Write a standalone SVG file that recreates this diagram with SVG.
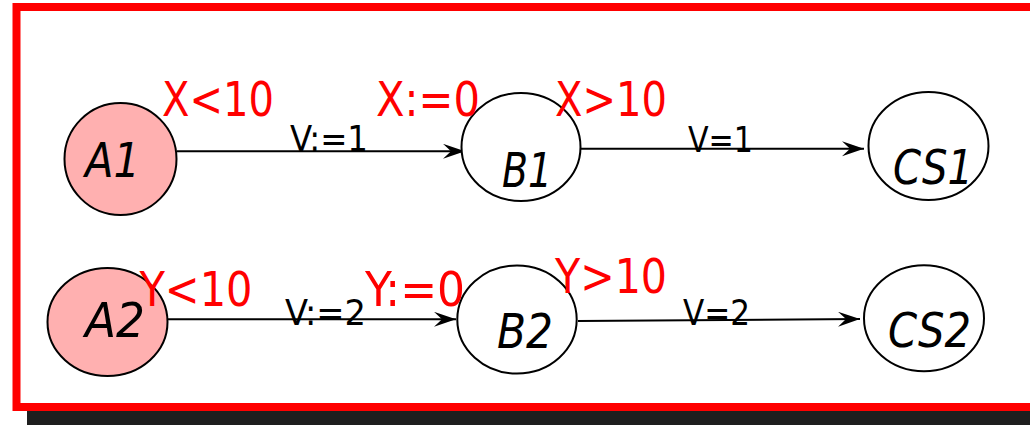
<svg xmlns="http://www.w3.org/2000/svg" width="1030" height="425" viewBox="0 0 1030 425">
  <style>
    .node { stroke: #000; stroke-width: 2; }
    .init { fill: #ffb0b0; }
    .plain { fill: #fff; }
    .nlabel { font-family: "DejaVu Sans Condensed", "DejaVu Sans", sans-serif; font-style: italic; font-size: 48px; fill: #000; }
    .guard { font-family: "DejaVu Sans Condensed", "DejaVu Sans", sans-serif; font-size: 48px; fill: #ff0000; }
    .act { font-family: "DejaVu Sans Condensed", "DejaVu Sans", sans-serif; font-size: 36px; fill: #000; }
    .edge { stroke: #000; stroke-width: 2; fill: none; marker-end: url(#arrow); }
  </style>
  <defs>
    <marker id="arrow" markerUnits="userSpaceOnUse" markerWidth="24" markerHeight="16" refX="22" refY="7.5" orient="auto">
      <path d="M0,0 L22,7.5 L0,15 L8,7.5 Z" fill="#000"/>
    </marker>
  </defs>
  <rect x="0" y="0" width="1030" height="425" fill="#fff"/>
  <rect x="27" y="17" width="1010" height="410" fill="#1e1e1e"/>
  <rect x="16.5" y="7" width="1030" height="400" fill="#fff" stroke="#ff0000" stroke-width="8"/>

  <g id="connectors">
    <line class="edge" x1="177" y1="151.3" x2="465" y2="151.3"/>
    <line class="edge" x1="581" y1="148.7" x2="864" y2="148.7"/>
    <line class="edge" x1="168" y1="319.3" x2="456" y2="319.3"/>
    <line class="edge" x1="578" y1="321" x2="860" y2="319"/>
  </g>

  <g id="A1"><ellipse class="node init" cx="120.5" cy="159" rx="56" ry="56"/><text class="nlabel" x="85" y="176.5" textLength="55" lengthAdjust="spacingAndGlyphs">A1</text></g>
  <g id="B1"><ellipse class="node plain" cx="521" cy="147" rx="59.5" ry="54"/><text class="nlabel" x="502" y="187" textLength="50" lengthAdjust="spacingAndGlyphs">B1</text></g>
  <g id="CS1"><ellipse class="node plain" cx="928.5" cy="146" rx="60" ry="54"/><text class="nlabel" x="893" y="184" textLength="80" lengthAdjust="spacingAndGlyphs">CS1</text></g>
  <g id="A2"><ellipse class="node init" cx="107.5" cy="322" rx="60" ry="54"/><text class="nlabel" x="85" y="337" textLength="60" lengthAdjust="spacingAndGlyphs">A2</text></g>
  <g id="B2"><ellipse class="node plain" cx="517" cy="319.5" rx="59.7" ry="54"/><text class="nlabel" x="497" y="347.5" textLength="56" lengthAdjust="spacingAndGlyphs">B2</text></g>
  <g id="CS2"><ellipse class="node plain" cx="924" cy="318.3" rx="60" ry="53"/><text class="nlabel" x="888" y="346.5" textLength="83" lengthAdjust="spacingAndGlyphs">CS2</text></g>

  <g id="labels">
    <text class="guard" x="162" y="116" textLength="112" lengthAdjust="spacingAndGlyphs">X&lt;10</text>
    <text class="guard" x="376" y="116" textLength="104" lengthAdjust="spacingAndGlyphs">X:=0</text>
    <text class="guard" x="555" y="116" textLength="112" lengthAdjust="spacingAndGlyphs">X&gt;10</text>
    <text class="guard" x="139.5" y="306" textLength="113" lengthAdjust="spacingAndGlyphs">Y&lt;10</text>
    <text class="guard" x="365" y="306" textLength="100" lengthAdjust="spacingAndGlyphs">Y:=0</text>
    <text class="guard" x="555" y="293" textLength="112" lengthAdjust="spacingAndGlyphs">Y&gt;10</text>
    <text class="act" x="290" y="151" textLength="78" lengthAdjust="spacingAndGlyphs">V:=1</text>
    <text class="act" x="285" y="325" textLength="81" lengthAdjust="spacingAndGlyphs">V:=2</text>
    <text class="act" x="688" y="151.5" textLength="65" lengthAdjust="spacingAndGlyphs">V=1</text>
    <text class="act" x="683" y="325" textLength="67" lengthAdjust="spacingAndGlyphs">V=2</text>
  </g>
</svg>
